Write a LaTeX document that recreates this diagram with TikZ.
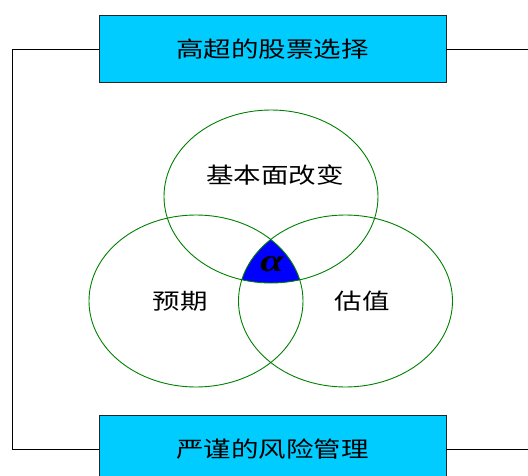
\documentclass[tikz,border=0pt]{standalone}
\usepackage{fontspec}
\newfontfamily\cjk[FakeStretch=1.25]{Noto Sans CJK SC}
\newfontfamily\greekfont[FakeStretch=1.3]{Liberation Serif}
\definecolor{boxcyan}{RGB}{0,204,255}
\definecolor{venngreen}{RGB}{0,128,0}
\newcommand{\boldalpha}{{\greekfont\bfseries\itshape\fontsize{32}{32}\selectfont α}}
\tikzset{
	goalbox/.style={draw=black!85, fill=boxcyan, line width=0.8pt,
		minimum width=347pt, minimum height=67pt, inner sep=0pt,
		font=\cjk\fontsize{22}{22}\selectfont},
	vennline/.style={draw=venngreen, line width=0.9pt},
	vennlabel/.style={font=\cjk\fontsize{22}{22}\selectfont},
}

\begin{document}
\begin{tikzpicture}[x=1pt,y=-1pt,line width=0.8pt]
\useasboundingbox (0,0) rectangle (528,476);

% Stock selection and risk control boxes
\node[goalbox] (stock) at (272.5,49) {高超的股票选择};
\node[goalbox] (risk) at (272.5,449) {严谨的风险管理};

% Rails
\coordinate (leftrail) at (12,49);
\coordinate (topend) at (528,49);
\coordinate (bottomend) at (528,449);
\draw (stock.west) -- (leftrail) |- (risk.west);
\draw (stock.east) -- (topend);
\draw (risk.east) -- (bottomend);

% Common part of the three ellipses
\begin{scope}
	\clip (271,196.5) ellipse [x radius=107pt, y radius=86.5pt];
	\clip (196,301) ellipse [x radius=107pt, y radius=86pt];
	\fill[blue] (345.5,301) ellipse [x radius=107pt, y radius=86pt];
\end{scope}

% Ellipses
\foreach \cx/\cy/\ry in {271/196.5/86.5, 196/301/86, 345.5/301/86}
{
	\draw[vennline] (\cx,\cy) ellipse [x radius=107pt, y radius=\ry pt];
}

% Labels
\node[vennlabel] (fundamental) at (275,175) {基本面改变};
\node[vennlabel] (expect) at (180,301) {预期};
\node[vennlabel] (value) at (362,301) {估值};
\node[inner sep=0pt] (alpha) at (272,264) {\boldalpha};

\end{tikzpicture}
\end{document}
